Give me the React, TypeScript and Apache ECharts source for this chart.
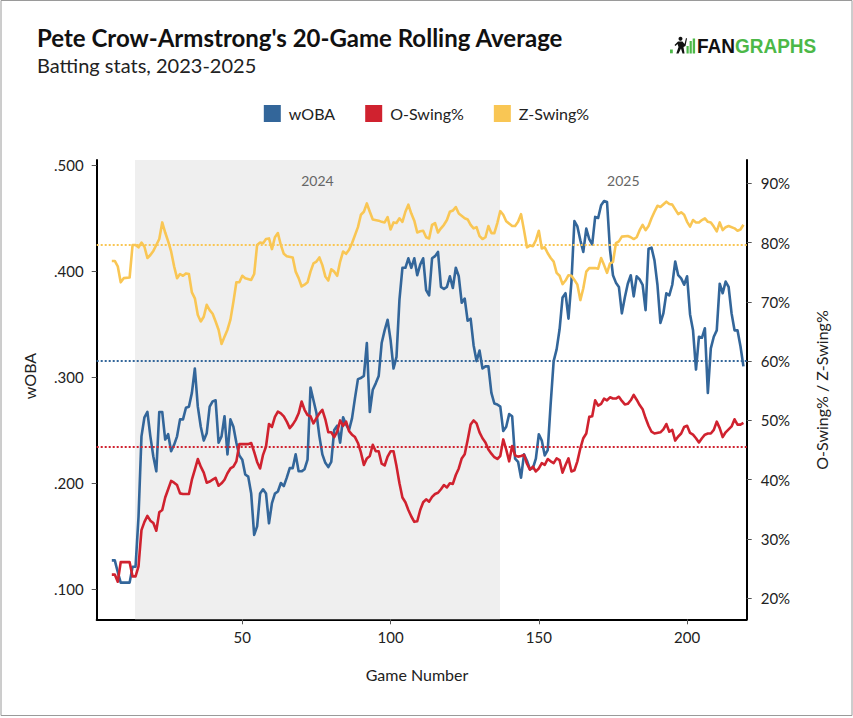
import React, { useEffect, useRef } from "react";
import * as echarts from "echarts";

// ---- data (game number, value) ----
const wobaPoints: [number, number][] = [
  [6,.127],[7,.127],[8,.116],[9,.106],[12,.106],[13,.121],[14,.121],[15,.168],[16,.244],[17,.262],[18,.267],[19,.244],[20,.225],[21,.211],[22,.267],[23,.267],[24,.241],[25,.246],[26,.230],[27,.236],[28,.244],[29,.260],[30,.260],[31,.271],[32,.272],[33,.285],[34,.308],[35,.272],[36,.253],[37,.240],[38,.247],[39,.272],[40,.277],[41,.278],[42,.238],[43,.244],[44,.263],[45,.227],[46,.260],[47,.253],[48,.238],[49,.226],[50,.222],[51,.208],[52,.206],[53,.190],[54,.151],[55,.159],[56,.190],[57,.194],[58,.190],[59,.162],[60,.181],[61,.190],[62,.192],[63,.200],[64,.197],[65,.205],[66,.214],[67,.214],[68,.227],[69,.211],[70,.211],[71,.213],[72,.222],[73,.290],[74,.278],[75,.266],[76,.244],[77,.227],[78,.219],[79,.215],[80,.220],[81,.250],[82,.254],[83,.238],[84,.262],[85,.255],[86,.250],[87,.261],[88,.280],[89,.298],[90,.299],[91,.301],[92,.332],[93,.267],[94,.288],[95,.294],[96,.301],[97,.332],[98,.344],[99,.354],[100,.335],[101,.308],[102,.319],[103,.373],[104,.403],[105,.403],[106,.412],[107,.403],[108,.412],[109,.396],[110,.406],[111,.412],[112,.382],[113,.377],[114,.412],[115,.414],[116,.418],[117,.385],[118,.383],[119,.385],[120,.395],[121,.384],[122,.403],[123,.395],[124,.370],[125,.374],[126,.353],[127,.355],[128,.330],[129,.315],[130,.325],[131,.308],[132,.310],[133,.310],[134,.285],[135,.275],[136,.274],[137,.272],[138,.249],[139,.253],[140,.265],[141,.263],[142,.223],[143,.220],[144,.205],[145,.227],[146,.221],[147,.213],[148,.214],[149,.223],[150,.246],[151,.240],[152,.226],[153,.231],[154,.275],[155,.315],[156,.326],[157,.345],[158,.375],[159,.379],[160,.355],[161,.390],[162,.447],[163,.442],[164,.429],[165,.418],[166,.440],[167,.430],[168,.425],[169,.451],[170,.450],[171,.462],[172,.466],[173,.465],[174,.420],[175,.396],[176,.389],[177,.385],[178,.360],[179,.375],[180,.388],[181,.396],[182,.376],[183,.395],[184,.392],[185,.387],[186,.363],[187,.421],[188,.422],[189,.410],[190,.387],[191,.351],[192,.360],[193,.379],[194,.377],[195,.387],[196,.409],[197,.396],[198,.393],[199,.387],[200,.395],[201,.359],[202,.344],[203,.307],[204,.338],[205,.337],[206,.346],[207,.285],[208,.327],[209,.338],[210,.344],[211,.388],[212,.379],[213,.390],[214,.385],[215,.360],[216,.344],[217,.344],[218,.329],[219,.310]
];

const oSwingPoints: [number, number][] = [
  [6,24.0],[7,24.0],[8,22.8],[9,26.1],[12,26.1],[13,23.7],[14,23.7],[15,25.4],[16,31.5],[17,32.9],[18,33.9],[19,33.1],[20,32.7],[21,31.4],[22,34.5],[23,34.9],[24,37.0],[25,38.4],[26,39.8],[27,39.5],[28,39.1],[29,37.7],[30,37.6],[32,37.6],[33,40.0],[34,41.7],[35,43.5],[36,42.2],[37,41.2],[38,39.5],[39,39.7],[40,40.0],[41,40.3],[42,39.0],[43,39.4],[44,40.0],[45,41.1],[46,41.9],[47,42.2],[48,43.1],[49,46.0],[50,46.0],[52,46.0],[53,46.2],[54,44.7],[55,43.0],[56,41.9],[57,44.2],[58,45.6],[59,49.4],[60,48.9],[61,50.6],[62,51.5],[63,51.2],[64,50.7],[65,49.8],[66,48.7],[67,49.3],[68,50.1],[69,51.2],[70,53.2],[71,51.8],[72,50.9],[73,50.7],[74,49.5],[75,50.4],[76,51.2],[77,51.8],[78,50.2],[79,48.0],[80,48.0],[81,47.2],[82,48.1],[83,50.0],[84,49.1],[85,49.8],[86,48.2],[87,47.6],[88,47.2],[89,46.2],[90,44.6],[91,42.5],[92,43.6],[93,44.0],[94,45.9],[95,44.8],[96,44.8],[97,42.7],[98,42.4],[99,43.9],[100,44.8],[101,44.8],[102,42.3],[103,39.4],[104,37.0],[105,36.2],[106,34.9],[107,33.8],[108,32.9],[109,33.0],[110,34.9],[111,36.2],[112,36.7],[113,36.3],[114,37.1],[115,37.6],[116,37.8],[117,38.4],[118,39.1],[119,38.7],[120,39.4],[121,39.3],[122,40.8],[123,41.9],[124,43.6],[125,44.3],[126,46.7],[127,49.3],[128,50.0],[129,49.5],[130,48.0],[131,47.0],[132,46.3],[133,45.1],[134,44.4],[135,43.8],[136,43.5],[137,44.0],[138,46.8],[139,45.1],[140,43.1],[141,45.7],[142,44.1],[143,43.9],[144,44.0],[145,44.2],[146,42.7],[147,41.7],[148,42.2],[149,41.4],[150,41.9],[151,42.8],[152,42.5],[153,43.5],[154,43.1],[155,42.8],[156,43.6],[157,43.3],[158,41.2],[159,42.5],[160,43.6],[161,41.4],[162,41.6],[163,43.1],[164,45.3],[165,47.0],[166,47.8],[167,50.6],[168,50.7],[169,53.4],[170,52.5],[171,52.8],[172,53.7],[173,53.4],[174,53.9],[175,53.7],[176,53.7],[177,54.0],[178,53.3],[179,52.7],[180,52.8],[181,53.4],[182,54.3],[183,53.5],[184,52.6],[185,51.9],[186,50.4],[187,49.1],[188,48.1],[189,47.8],[191,48.0],[192,48.5],[193,49.4],[194,48.1],[195,48.4],[196,46.6],[197,47.3],[198,47.8],[199,48.9],[200,49.1],[201,47.9],[202,47.6],[203,47.0],[204,46.3],[205,47.0],[206,47.6],[207,47.8],[208,47.8],[209,48.4],[210,49.8],[211,48.7],[212,47.2],[213,48.0],[214,48.5],[215,49.0],[216,50.2],[217,49.3],[218,49.3],[219,49.6]
];

const zSwingPoints: [number, number][] = [
  [6,76.9],[7,76.9],[8,76.0],[9,73.3],[10,74.0],[12,74.1],[13,79.6],[14,79.6],[15,79.2],[16,80.0],[17,79.3],[18,77.4],[19,77.9],[20,78.6],[21,79.6],[22,80.6],[23,83.4],[24,81.7],[25,80.2],[26,78.5],[27,76.0],[28,74.0],[29,74.7],[30,74.4],[31,74.8],[32,74.7],[33,71.6],[34,70.6],[35,67.8],[36,66.7],[37,67.5],[38,69.5],[39,68.6],[40,68.0],[41,66.7],[42,65.3],[43,62.9],[44,64.1],[45,65.3],[46,67.0],[47,70.0],[48,73.3],[49,73.3],[50,74.4],[51,74.0],[53,73.7],[54,74.7],[55,79.6],[56,80.0],[57,79.9],[58,80.6],[59,80.7],[60,78.9],[61,80.9],[62,81.6],[63,79.6],[64,78.1],[65,77.7],[67,77.5],[68,75.1],[69,74.0],[70,72.6],[71,72.9],[72,73.3],[73,75.1],[74,76.5],[75,76.8],[76,77.5],[77,76.2],[78,74.3],[79,73.6],[80,75.5],[81,75.1],[82,74.4],[83,76.8],[84,78.5],[85,78.1],[86,78.8],[87,79.9],[89,82.6],[90,84.7],[91,85.2],[92,86.6],[93,85.2],[94,83.9],[96,83.7],[97,83.5],[98,83.4],[99,84.3],[100,82.2],[101,83.4],[102,83.3],[103,84.1],[104,83.5],[105,85.2],[106,86.4],[107,84.9],[108,83.7],[109,81.7],[110,81.9],[111,82.0],[112,80.9],[113,80.7],[114,83.0],[115,83.3],[116,81.7],[117,82.4],[118,83.0],[119,83.8],[120,85.2],[121,85.4],[122,86.0],[123,84.9],[125,84.1],[126,83.9],[127,83.0],[128,82.4],[129,82.6],[130,81.1],[131,80.6],[132,80.9],[133,82.8],[134,81.6],[135,81.6],[136,83.3],[137,85.3],[138,84.7],[139,83.6],[141,82.8],[142,82.8],[143,83.5],[144,84.8],[145,82.1],[146,79.2],[147,79.5],[148,79.4],[149,80.4],[150,82.0],[151,79.0],[152,79.2],[153,78.2],[154,77.4],[155,76.8],[156,74.9],[157,74.4],[158,73.0],[159,73.6],[160,74.5],[161,74.4],[162,73.7],[163,72.9],[164,70.3],[165,72.3],[166,75.1],[167,75.7],[169,75.7],[170,75.6],[171,77.4],[172,76.2],[173,74.9],[174,76.5],[175,76.7],[176,79.9],[177,80.2],[178,81.0],[180,81.1],[181,80.9],[182,80.6],[183,80.9],[184,82.1],[185,83.0],[186,82.1],[187,82.8],[188,84.1],[189,85.2],[190,86.2],[191,86.0],[193,86.9],[194,86.5],[195,86.4],[196,85.6],[197,84.8],[198,85.1],[199,84.7],[200,83.5],[201,82.7],[202,83.8],[203,83.4],[204,83.4],[205,83.8],[206,84.1],[207,83.5],[208,83.4],[209,82.7],[210,81.9],[211,83.4],[212,82.1],[213,82.6],[214,82.8],[216,82.4],[217,82.0],[218,82.2],[219,83.0]
];

// averages (dotted reference lines)
const averages = { woba: 0.315, oSwing: 45.5, zSwing: 79.6 };

// seasons shading (game-number boundaries)
const seasons = [
  { name: "2024", start: 13.8, end: 136.9, shaded: true },
  { name: "2025", start: 136.9, end: 220.1, shaded: false },
];

const xTicks = [50, 100, 150, 200];
const wobaTicks = [0.1, 0.2, 0.3, 0.4, 0.5];
const pctTicks = [20, 30, 40, 50, 60, 70, 80, 90];

const BLUE = "#33669a";
const RED = "#d0222f";
const YELLOW = "#f9c654";
const FONT = "Lato";

export default function App() {
  const ref = useRef<HTMLDivElement>(null);

  useEffect(() => {
    if (!ref.current) return;
    const chart = echarts.init(ref.current, undefined, { renderer: "svg" });

    const dotted = (color: string, value: number) => ({
      silent: true,
      symbol: "none",
      precision: 4,
      label: { show: false },
      lineStyle: { color, type: [2, 2], width: 2 },
      data: [{ yAxis: value }],
    });

    const option: any = {
      animation: false,
      backgroundColor: "#ffffff",
      textStyle: { fontFamily: FONT },
      grid: { left: 96.7, right: 106.3, top: 160, bottom: 98.7, containLabel: false },
      legend: {
        top: 100,
        left: "center",
        icon: "rect",
        itemWidth: 17,
        itemHeight: 17,
        itemGap: 30,
        textStyle: { fontFamily: FONT, fontSize: 16, color: "#222", padding: [0, 0, 0, 3] },
        data: ["wOBA", "O-Swing%", "Z-Swing%"],
      },
      xAxis: {
        type: "value",
        min: 0.9,
        max: 220.1,
        axisLine: { show: true, onZero: false, lineStyle: { color: "#000", width: 2 } },
        axisTick: { show: true, length: 5, customValues: xTicks, lineStyle: { color: "#555" } },
        axisLabel: { customValues: xTicks, fontSize: 15, color: "#222", margin: 10, fontFamily: FONT },
        splitLine: { show: false },
      },
      yAxis: [
        {
          type: "value",
          min: 0.0714,
          max: 0.5047,
          position: "left",
          axisLine: { show: true, lineStyle: { color: "#000", width: 2 } },
          axisTick: { show: true, length: 5, customValues: wobaTicks, lineStyle: { color: "#555" } },
          axisLabel: {
            customValues: wobaTicks,
            fontSize: 15,
            color: "#222",
            margin: 13,
            fontFamily: FONT,
            formatter: (v: number) => v.toFixed(3).replace(/^0/, ""),
          },
          splitLine: { show: false },
        },
        {
          type: "value",
          min: 16.46,
          max: 93.93,
          position: "right",
          axisLine: { show: true, lineStyle: { color: "#000", width: 2 } },
          axisTick: { show: true, length: 5, customValues: pctTicks, lineStyle: { color: "#555" } },
          axisLabel: {
            customValues: pctTicks,
            fontSize: 15,
            color: "#222",
            margin: 14,
            fontFamily: FONT,
            formatter: (v: number) => `${Math.round(v)}%`,
          },
          splitLine: { show: false },
        },
      ],
      series: [
        {
          name: "wOBA",
          type: "line",
          yAxisIndex: 0,
          data: wobaPoints,
          symbol: "none",
          color: BLUE,
          lineStyle: { width: 2.6, color: BLUE, join: "round" },
          markArea: {
            silent: true,
            data: seasons.map((s) => [
              {
                xAxis: s.start,
                name: s.name,
                itemStyle: { color: s.shaded ? "#efefef" : "rgba(0,0,0,0)" },
              },
              { xAxis: s.end },
            ]),
            label: {
              show: true,
              position: "insideTop",
              distance: 13,
              color: "#666",
              fontSize: 14,
              fontFamily: FONT,
            },
          },
          markLine: dotted(BLUE, averages.woba),
        },
        {
          name: "O-Swing%",
          type: "line",
          yAxisIndex: 1,
          data: oSwingPoints,
          symbol: "none",
          color: RED,
          lineStyle: { width: 2.6, color: RED, join: "round" },
          markLine: dotted(RED, averages.oSwing),
        },
        {
          name: "Z-Swing%",
          type: "line",
          yAxisIndex: 1,
          data: zSwingPoints,
          symbol: "none",
          color: YELLOW,
          lineStyle: { width: 2.6, color: YELLOW, join: "round" },
          markLine: dotted(YELLOW, averages.zSwing),
        },
      ],
      graphic: [
        {
          type: "rect",
          shape: { x: 1, y: 0.5, width: 851, height: 715 },
          style: { fill: "none", stroke: "#9a9a9a", lineWidth: 1 },
          silent: true,
        },
        {
          type: "text",
          x: 37,
          y: 37,
          style: {
            text: "Pete Crow-Armstrong's 20-Game Rolling Average",
            fontFamily: FONT,
            fontWeight: "bold",
            fontSize: 24,
            fill: "#111",
            verticalAlign: "middle",
          },
        },
        {
          type: "text",
          x: 37,
          y: 65,
          style: {
            text: "Batting stats, 2023-2025",
            fontFamily: FONT,
            fontSize: 20,
            fill: "#222",
            verticalAlign: "middle",
          },
        },
        // FanGraphs logo
        { type: "rect", shape: { x: 670, y: 49.5, width: 2.8, height: 3.8 }, style: { fill: "#4cb848" } },
        { type: "circle", shape: { cx: 680.5, cy: 38.8, r: 2 }, style: { fill: "#111" } },
        {
          type: "polygon",
          shape: {
            points: [
              [678, 41.5], [682.5, 41.5], [684.5, 44], [686, 38], [687, 38.5], [685.5, 46],
              [683.5, 47], [684.5, 53.5], [682.5, 53.5], [681, 48.5], [678.5, 53.5], [676.3, 53.5],
              [678.5, 47], [677.5, 44], [675.5, 46], [674.5, 45],
            ],
          },
          style: { fill: "#111" },
        },
        { type: "rect", shape: { x: 686.5, y: 46, width: 2.2, height: 7.5 }, style: { fill: "#4cb848" } },
        { type: "rect", shape: { x: 689.6, y: 41, width: 2.2, height: 12.5 }, style: { fill: "#4cb848" } },
        { type: "rect", shape: { x: 692.7, y: 38.5, width: 2.4, height: 15 }, style: { fill: "#4cb848" } },
        {
          type: "text",
          x: 697,
          y: 46.2,
          scaleY: 1.08,
          style: {
            text: "{a|FAN}{b|GRAPHS}",
            verticalAlign: "middle",
            rich: {
              a: { fontFamily: "Liberation Sans", fontWeight: "bold", fontSize: 19, fill: "#111" },
              b: { fontFamily: "Liberation Sans", fontWeight: "bold", fontSize: 19, fill: "#4cb848" },
            },
          },
        },
        // axis names
        {
          type: "text",
          x: 29,
          y: 376,
          rotation: Math.PI / 2,
          style: {
            text: "wOBA",
            fontFamily: FONT,
            fontSize: 16,
            fill: "#222",
            align: "center",
            verticalAlign: "middle",
          },
        },
        {
          type: "text",
          x: 821.5,
          y: 390,
          rotation: Math.PI / 2,
          style: {
            text: "O-Swing% / Z-Swing%",
            fontFamily: FONT,
            fontSize: 16,
            fill: "#222",
            align: "center",
            verticalAlign: "middle",
          },
        },
        {
          type: "text",
          x: 417,
          y: 674,
          style: {
            text: "Game Number",
            fontFamily: FONT,
            fontSize: 16,
            fill: "#222",
            align: "center",
            verticalAlign: "middle",
          },
        },
      ],
    };

    chart.setOption(option);
    return () => chart.dispose();
  }, []);

  return (
    <div
      ref={ref}
      style={{ position: "absolute", left: 0, top: 0, width: 853, height: 718, background: "#fff" }}
    />
  );
}
